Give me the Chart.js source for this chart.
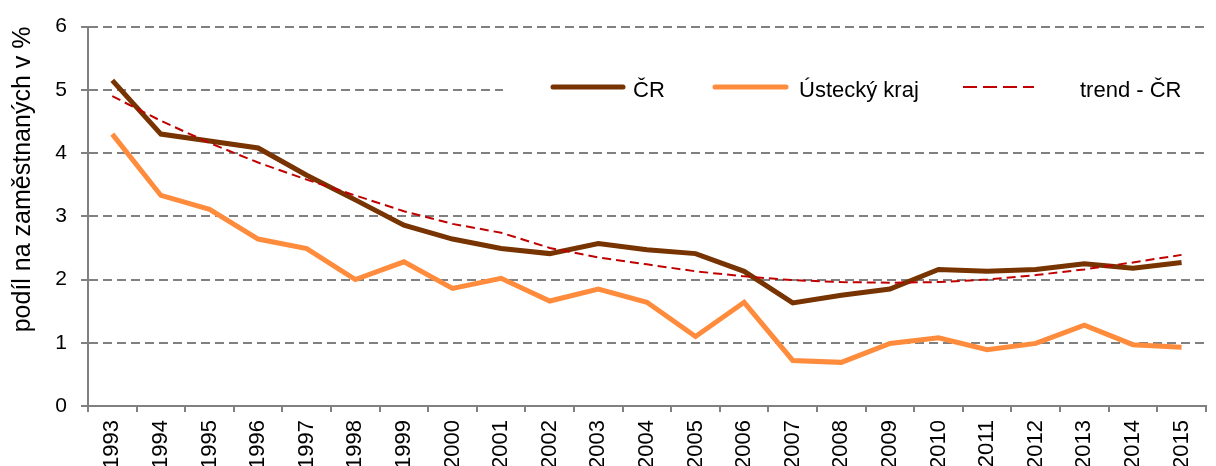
<!DOCTYPE html>
<html>
<head>
<meta charset="utf-8">
<script src="https://cdn.jsdelivr.net/npm/chart.js@4/dist/chart.umd.min.js"></script>
<style>
  html, body { margin: 0; padding: 0; background: #fff; }
  #wrap { width: 1216px; height: 466px; }
</style>
</head>
<body>
<div id="wrap"><canvas id="myChart" width="1216" height="466"></canvas></div>
<script>
const years = ["1993","1994","1995","1996","1997","1998","1999","2000","2001","2002","2003","2004",
               "2005","2006","2007","2008","2009","2010","2011","2012","2013","2014","2015"];
const crValues = [5.15, 4.30, 4.19, 4.08, 3.65, 3.26, 2.86, 2.64, 2.49, 2.41, 2.57, 2.47,
                  2.41, 2.13, 1.63, 1.75, 1.85, 2.16, 2.13, 2.16, 2.25, 2.18, 2.27];
const usteckyValues = [4.30, 3.33, 3.11, 2.64, 2.49, 2.00, 2.28, 1.86, 2.02, 1.66, 1.85, 1.64,
                       1.10, 1.64, 0.72, 0.69, 0.99, 1.08, 0.89, 0.99, 1.28, 0.97, 0.93];
const trendValues = [4.90, 4.51, 4.16, 3.85, 3.58, 3.33, 3.08, 2.88, 2.74, 2.50, 2.35, 2.24,
                     2.13, 2.05, 1.99, 1.96, 1.95, 1.96, 2.00, 2.07, 2.16, 2.27, 2.39];
const yTicks = [0, 1, 2, 3, 4, 5, 6];

const FONT = "'Liberation Sans', Arial, sans-serif";
const gridGray = "#808080";

// legend drawn by hand, Excel style, over the 5 % gridline
const legendBox = {
  id: "legendBox",
  beforeDatasetsDraw(chart) {
    const ctx = chart.ctx;
    const items = [
      { ds: 0, x: 553, w: 70, textX: 633 },
      { ds: 1, x: 715, w: 71, textX: 799 },
      { ds: 2, x: 963, w: 71, textX: 1080 }
    ];
    ctx.save();
    ctx.fillStyle = "#fff";
    ctx.fillRect(503, 66, 711, 44);
    ctx.font = "22px " + FONT;
    ctx.textBaseline = "middle";
    ctx.fillStyle = "#000";
    items.forEach(it => {
      const ds = chart.data.datasets[it.ds];
      ctx.beginPath();
      ctx.strokeStyle = ds.borderColor;
      if (ds.borderDash) {
        ctx.lineWidth = 2;
        ctx.setLineDash([14, 6]);
        ctx.lineCap = "butt";
      } else {
        ctx.lineWidth = ds.borderWidth;
        ctx.setLineDash([]);
        ctx.lineCap = "round";
      }
      ctx.moveTo(it.x, 87);
      ctx.lineTo(it.x + it.w, 87);
      ctx.stroke();
      ctx.fillText(ds.label, it.textX, 91);
    });
    ctx.restore();
  }
};

new Chart(document.getElementById("myChart"), {
  type: "line",
  data: {
    labels: years,
    datasets: [
      {
        label: "ČR",
        data: crValues,
        borderColor: "#773300",
        borderWidth: 5,
        pointRadius: 0,
        order: 1
      },
      {
        label: "Ústecký kraj",
        data: usteckyValues,
        borderColor: "#ff8c3c",
        borderWidth: 5,
        pointRadius: 0,
        order: 2
      },
      {
        label: "trend - ČR",
        data: trendValues,
        borderColor: "#c00000",
        borderWidth: 2,
        borderDash: [9, 5],
        pointRadius: 0,
        order: 0
      }
    ]
  },
  options: {
    responsive: false,
    animation: false,
    layout: { padding: { top: 23, right: 2, left: 0, bottom: 0 } },
    plugins: {
      legend: { display: false },
      tooltip: { enabled: false }
    },
    scales: {
      x: {
        offset: true,
        grid: {
          offset: true,
          drawOnChartArea: false,
          drawTicks: true,
          tickLength: 6,
          color: gridGray,
          lineWidth: 2
        },
        border: { display: true, color: gridGray, width: 2 },
        ticks: {
          autoSkip: false,
          minRotation: 90,
          maxRotation: 90,
          padding: 8,
          color: "#000",
          font: { family: FONT, size: 22 }
        },
        afterFit(scale) { scale.height = 60; }
      },
      y: {
        min: 0,
        max: 6,
        afterBuildTicks(scale) { scale.ticks = yTicks.map(v => ({ value: v })); },
        grid: {
          color: gridGray,
          lineWidth: 2,
          tickLength: 7,
          tickColor: gridGray,
          tickBorderDash: []
        },
        border: { display: true, color: gridGray, width: 2, dash: [9, 5] },
        ticks: {
          padding: 14,
          color: "#000",
          font: { family: FONT, size: 21 }
        },
        title: {
          display: true,
          text: "podíl na zaměstnaných v %",
          align: "end",
          color: "#000",
          padding: { top: 8, bottom: 0 },
          font: { family: FONT, size: 25 }
        },
        afterFit(scale) { scale.width = 88; }
      }
    }
  },
  plugins: [legendBox]
});
</script>
</body>
</html>
